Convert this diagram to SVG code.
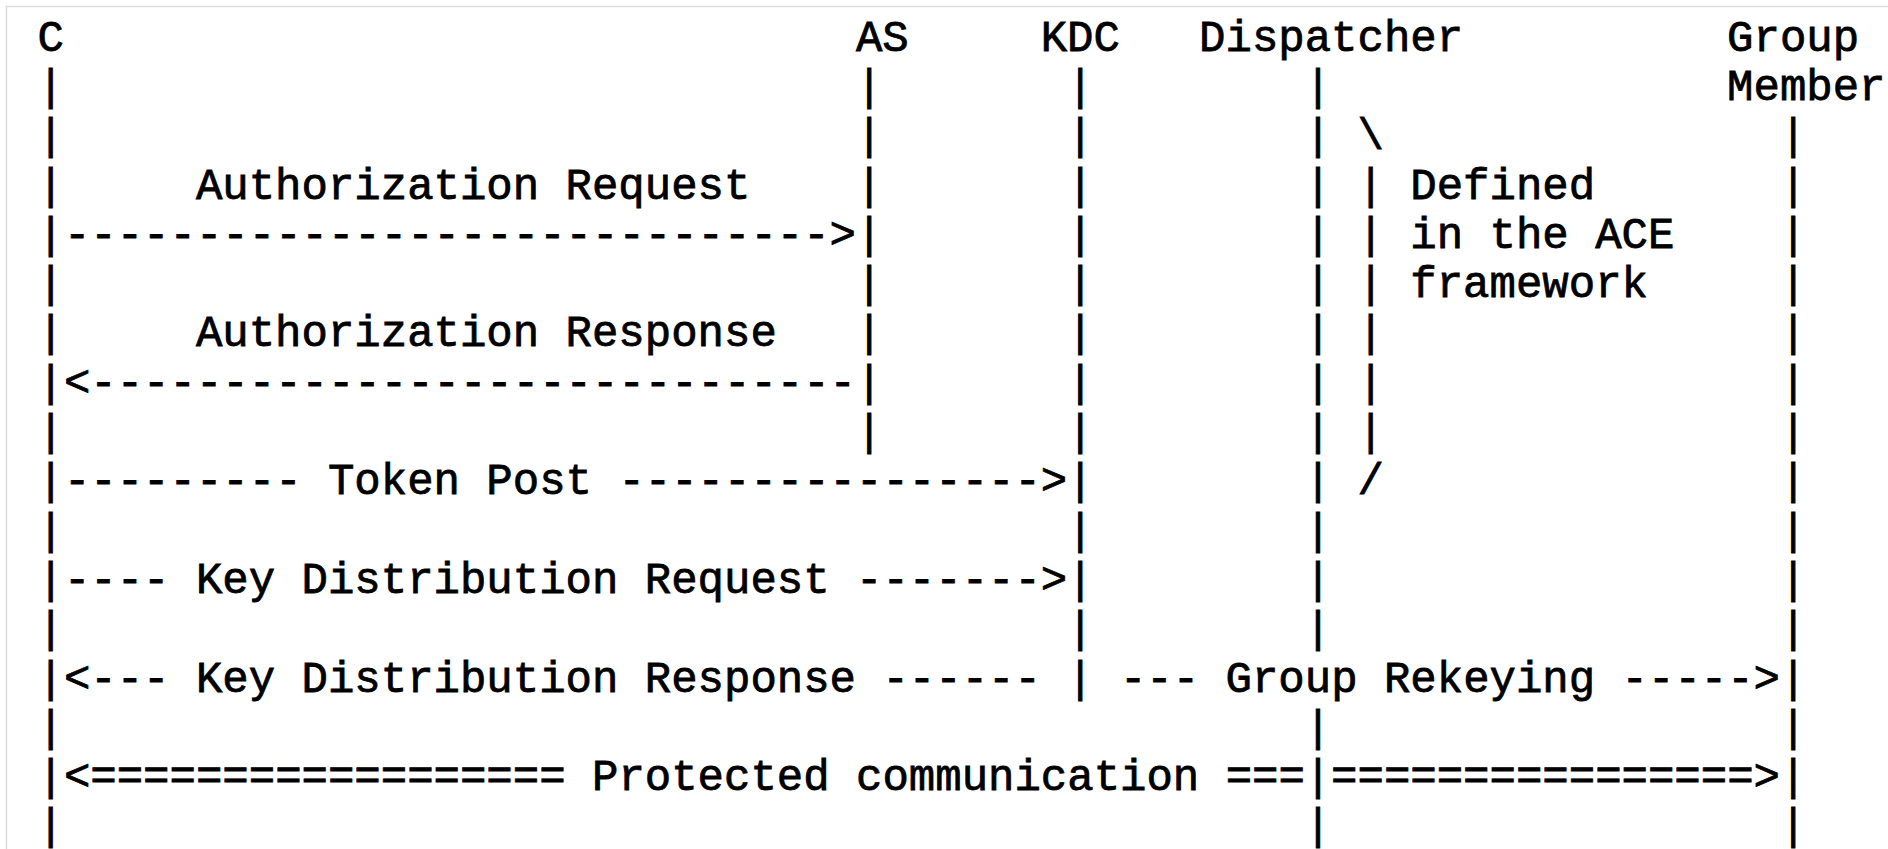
<svg xmlns="http://www.w3.org/2000/svg" width="1888" height="849" viewBox="0 0 1888 849">
<style>
.t{font-family:"Liberation Mono","Courier New",monospace;font-size:44px;fill:#000;stroke:#000;stroke-width:0.8px;white-space:pre}
</style>
<rect x="0" y="0" width="1888" height="849" fill="#fff"/>
<rect x="6.5" y="6.5" width="2000" height="2000" fill="none" stroke="#dcdcdc" stroke-width="1.5"/>
<g id="node-C">
<text class="t" x="37.5" y="50.6">C</text>
<text class="t"><tspan x="37.5" y="99.9">|</tspan><tspan x="37.5" y="149.2">|</tspan><tspan x="37.5" y="198.5">|</tspan><tspan x="37.5" y="247.8">|</tspan><tspan x="37.5" y="297.1">|</tspan><tspan x="37.5" y="346.4">|</tspan><tspan x="37.5" y="395.7">|</tspan><tspan x="37.5" y="445">|</tspan><tspan x="37.5" y="494.3">|</tspan><tspan x="37.5" y="543.6">|</tspan><tspan x="37.5" y="592.9">|</tspan><tspan x="37.5" y="642.2">|</tspan><tspan x="37.5" y="691.5">|</tspan><tspan x="37.5" y="740.8">|</tspan><tspan x="37.5" y="790.1">|</tspan><tspan x="37.5" y="839.4">|</tspan></text>
</g>
<g id="node-AS">
<text class="t" x="855.9" y="50.6">AS</text>
<text class="t"><tspan x="855.9" y="99.9">|</tspan><tspan x="855.9" y="149.2">|</tspan><tspan x="855.9" y="198.5">|</tspan><tspan x="855.9" y="247.8">|</tspan><tspan x="855.9" y="297.1">|</tspan><tspan x="855.9" y="346.4">|</tspan><tspan x="855.9" y="395.7">|</tspan><tspan x="855.9" y="445">|</tspan></text>
</g>
<g id="node-KDC">
<text class="t" x="1040.7" y="50.6">KDC</text>
<text class="t"><tspan x="1067.1" y="99.9">|</tspan><tspan x="1067.1" y="149.2">|</tspan><tspan x="1067.1" y="198.5">|</tspan><tspan x="1067.1" y="247.8">|</tspan><tspan x="1067.1" y="297.1">|</tspan><tspan x="1067.1" y="346.4">|</tspan><tspan x="1067.1" y="395.7">|</tspan><tspan x="1067.1" y="445">|</tspan><tspan x="1067.1" y="494.3">|</tspan><tspan x="1067.1" y="543.6">|</tspan><tspan x="1067.1" y="592.9">|</tspan><tspan x="1067.1" y="642.2">|</tspan><tspan x="1067.1" y="691.5">|</tspan></text>
</g>
<g id="node-Dispatcher">
<text class="t" x="1199.1" y="50.6">Dispatcher</text>
<text class="t"><tspan x="1304.7" y="99.9">|</tspan><tspan x="1304.7" y="149.2">|</tspan><tspan x="1304.7" y="198.5">|</tspan><tspan x="1304.7" y="247.8">|</tspan><tspan x="1304.7" y="297.1">|</tspan><tspan x="1304.7" y="346.4">|</tspan><tspan x="1304.7" y="395.7">|</tspan><tspan x="1304.7" y="445">|</tspan><tspan x="1304.7" y="494.3">|</tspan><tspan x="1304.7" y="543.6">|</tspan><tspan x="1304.7" y="592.9">|</tspan><tspan x="1304.7" y="642.2">|</tspan><tspan x="1304.7" y="740.8">|</tspan><tspan x="1304.7" y="790.1">|</tspan><tspan x="1304.7" y="839.4">|</tspan></text>
</g>
<g id="node-GroupMember">
<text class="t" x="1727.1" y="50.6">Group</text>
<text class="t" x="1727.1" y="99.9">Member</text>
<text class="t"><tspan x="1779.9" y="149.2">|</tspan><tspan x="1779.9" y="198.5">|</tspan><tspan x="1779.9" y="247.8">|</tspan><tspan x="1779.9" y="297.1">|</tspan><tspan x="1779.9" y="346.4">|</tspan><tspan x="1779.9" y="395.7">|</tspan><tspan x="1779.9" y="445">|</tspan><tspan x="1779.9" y="494.3">|</tspan><tspan x="1779.9" y="543.6">|</tspan><tspan x="1779.9" y="592.9">|</tspan><tspan x="1779.9" y="642.2">|</tspan><tspan x="1779.9" y="691.5">|</tspan><tspan x="1779.9" y="740.8">|</tspan><tspan x="1779.9" y="790.1">|</tspan><tspan x="1779.9" y="839.4">|</tspan></text>
</g>
<g id="ace-framework-note">
<text class="t"><tspan x="1357.5" y="149.2">\</tspan><tspan x="1357.5" y="198.5">|</tspan><tspan x="1357.5" y="247.8">|</tspan><tspan x="1357.5" y="297.1">|</tspan><tspan x="1357.5" y="346.4">|</tspan><tspan x="1357.5" y="395.7">|</tspan><tspan x="1357.5" y="445">|</tspan><tspan x="1357.5" y="494.3">/</tspan></text>
<text class="t" x="1410.3" y="198.5">Defined</text>
<text class="t" x="1410.3" y="247.8" xml:space="preserve">in the ACE</text>
<text class="t" x="1410.3" y="297.1">framework</text>
</g>
<g id="connectors">
<text class="t" x="195.9" y="198.5">Authorization Request</text>
<text class="t" x="63.9" y="247.8">-----------------------------&gt;</text>
<text class="t" x="195.9" y="346.4">Authorization Response</text>
<text class="t" x="63.9" y="395.7">&lt;-----------------------------</text>
<text class="t" x="63.9" y="494.3" xml:space="preserve">--------- Token Post ----------------&gt;</text>
<text class="t" x="63.9" y="592.9" xml:space="preserve">---- Key Distribution Request -------&gt;</text>
<text class="t" x="63.9" y="691.5" xml:space="preserve">&lt;--- Key Distribution Response ------</text>
<text class="t" x="1119.9" y="691.5" xml:space="preserve">--- Group Rekeying -----&gt;</text>
<text class="t" x="63.9" y="790.1" xml:space="preserve">&lt;================== Protected communication ===</text>
<text class="t" x="1331.1" y="790.1">================&gt;</text>
</g>
</svg>
